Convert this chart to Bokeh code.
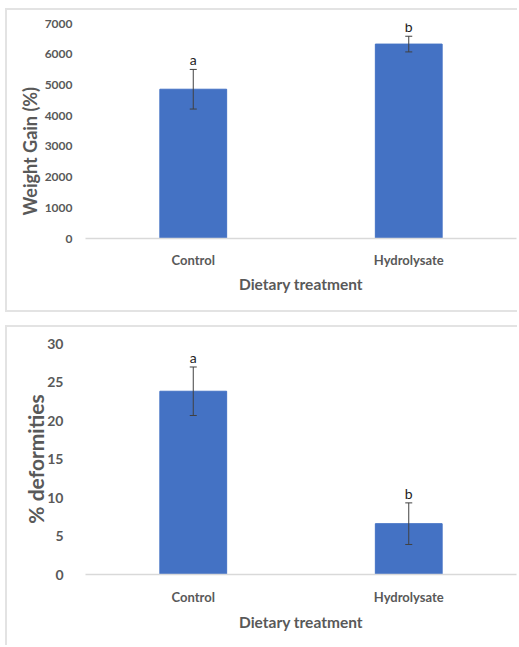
from bokeh.plotting import figure
from bokeh.layouts import column
from bokeh.models import (ColumnDataSource, Whisker, TeeHead, FactorRange,
                          FixedTicker, LabelSet, Title)
from bokeh.core.properties import value
from bokeh.embed import file_html
from bokeh.resources import INLINE

categories = ["Control", "Hydrolysate"]
weight_gain = [4860, 6330]
weight_gain_err = [645, 255]
weight_gain_letters = ["a", "b"]
deformities = [23.8, 6.6]
deformities_err = [3.15, 2.7]
deformities_letters = ["a", "b"]

FONT = "Lato"
GRAY = "#595959"
BAR = "#4472C4"
EDGE = "2px solid #e3e3e3"


def make_panel(vals, errs, letters, ymax, ystep, height, borders,
               mb, ylab_size, ylab_standoff, xlab_standoff, xtitle_standoff):
    src = ColumnDataSource(dict(
        cat=categories, val=vals,
        upper=[v + e for v, e in zip(vals, errs)],
        lower=[v - e for v, e in zip(vals, errs)],
        letter=letters,
    ))
    p = figure(x_range=FactorRange(*categories, range_padding=0),
               y_range=(0, ymax), width=512, height=height,
               output_backend="svg", toolbar_location=None,
               min_border_left=mb[0], min_border_right=mb[1],
               min_border_top=mb[2], min_border_bottom=mb[3],
               styles=borders)
    p.outline_line_color = None
    p.border_fill_alpha = 0
    p.xgrid.grid_line_color = None
    p.ygrid.grid_line_color = None
    p.vbar(x="cat", top="val", width=0.31, source=src, fill_color=BAR,
           line_color=BAR)
    head = dict(size=7, line_color="#404040", line_width=1)
    w = Whisker(base="cat", upper="upper", lower="lower", source=src,
                line_color="#404040", line_width=1, level="overlay",
                upper_head=TeeHead(**head), lower_head=TeeHead(**head))
    p.add_layout(w)
    labels = LabelSet(x="cat", y="upper", text="letter", source=src,
                      text_font=value(FONT), text_font_size="14px",
                      text_color="#222222", text_align="center",
                      text_baseline="alphabetic", y_offset=4, level="overlay")
    p.add_layout(labels)

    p.yaxis.ticker = FixedTicker(ticks=list(range(0, ymax + 1, ystep)))
    p.yaxis.axis_line_color = None
    p.yaxis.major_tick_line_color = None
    p.yaxis.minor_tick_line_color = None
    p.yaxis.major_tick_out = 0
    p.yaxis.major_tick_in = 0
    p.yaxis.minor_tick_out = 0
    p.yaxis.major_label_text_font = FONT
    p.yaxis.major_label_text_font_style = "bold"
    p.yaxis.major_label_text_color = GRAY
    p.yaxis.major_label_text_font_size = ylab_size
    p.yaxis.major_label_standoff = ylab_standoff
    p.yaxis.axis_label_text_font = FONT
    p.yaxis.axis_label_text_font_style = "bold"
    p.yaxis.axis_label_text_color = GRAY

    p.xaxis.axis_line_color = "#d9d9d9"
    p.xaxis.axis_line_width = 1.5
    p.xaxis.major_tick_line_color = None
    p.xaxis.minor_tick_line_color = None
    p.xaxis.major_tick_out = 0
    p.xaxis.major_tick_in = 0
    p.xaxis.minor_tick_out = 0
    p.xaxis.major_label_text_font = FONT
    p.xaxis.major_label_text_font_style = "bold"
    p.xaxis.major_label_text_color = GRAY
    p.xaxis.major_label_text_font_size = "13px"
    p.xaxis.major_label_standoff = xlab_standoff
    p.xaxis.axis_label = "Dietary treatment"
    p.xaxis.axis_label_text_font = FONT
    p.xaxis.axis_label_text_font_style = "bold"
    p.xaxis.axis_label_text_color = GRAY
    p.xaxis.axis_label_text_font_size = "15.5px"
    p.xaxis.axis_label_standoff = xtitle_standoff
    return p


p1 = make_panel(weight_gain, weight_gain_err, weight_gain_letters, 7000, 1000,
                304,
                {"border-top": EDGE, "border-left": EDGE, "border-bottom": EDGE},
                (78, 0, 13, 76), "12px", 13, 13, 4)
p1.add_layout(Title(text="Weight Gain (%)", align="left", offset=23,
                    standoff=2, text_font=FONT, text_font_style="bold",
                    text_font_size="18px", text_color=GRAY), "left")

p2 = make_panel(deformities, deformities_err, deformities_letters, 30, 5,
                320,
                {"border-top": EDGE, "border-left": EDGE},
                (75, 3, 16, 73), "14px", 22, 14, 5)
p2.yaxis.axis_label = "% deformities"
p2.yaxis.axis_label_text_font_size = "21px"
p2.yaxis.axis_label_standoff = -4

layout = column(p1, p2, spacing=13, margin=(8, 0, 0, 5))
open("out.html", "w").write(file_html(layout, INLINE))
